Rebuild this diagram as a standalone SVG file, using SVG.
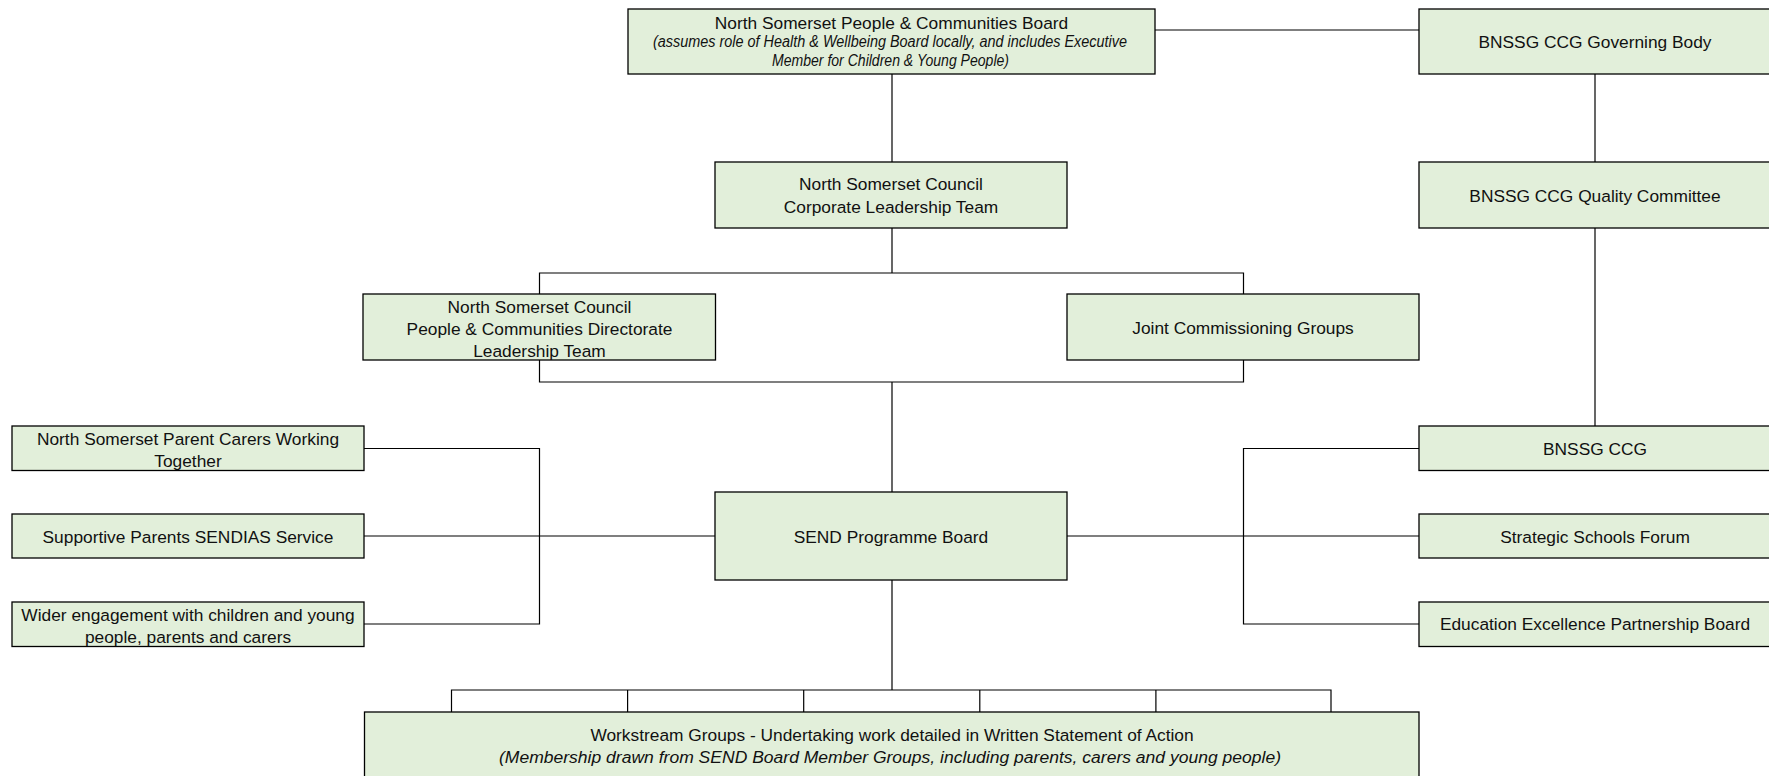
<svg xmlns="http://www.w3.org/2000/svg" width="1769" height="776" viewBox="0 0 1769 776">
<style>
.box{fill:#E2EFDA;stroke:#000;stroke-width:1.3}
.t{font-family:"Liberation Sans",Arial,sans-serif;font-size:17.33px;fill:#111;text-anchor:middle}
.i{font-style:italic}
.s{font-size:16px}
.c{fill:none;stroke:#000;stroke-width:1.2}
</style>
<rect width="1769" height="776" fill="#fff"/>
<g id="connectors">
<path class="c" d="M1155 30H1419"/>
<path class="c" d="M892 74V162"/>
<path class="c" d="M1595 74V162"/>
<path class="c" d="M1595 228V426"/>
<path class="c" d="M892 228V273"/>
<path class="c" d="M539.5 294V273H1243.5V294"/>
<path class="c" d="M539.5 360V382H1243.5V360"/>
<path class="c" d="M892 382V492"/>
<path class="c" d="M364 448.5H539.5V624H364"/>
<path class="c" d="M364 536H715"/>
<path class="c" d="M1419 448.5H1243.5V624H1419"/>
<path class="c" d="M1067 536H1419"/>
<path class="c" d="M892 580V690"/>
<path class="c" d="M451.5 712V690H1331V712M627.6 690V712M803.7 690V712M979.8 690V712M1155.9 690V712"/>
</g>
<g id="n-top">
<rect class="box" x="628" y="9" width="527" height="65"/>
<text class="t" x="891.5" y="28.5">North Somerset People &amp; Communities Board</text>
<text class="t i s" x="890" y="46.7" textLength="474" lengthAdjust="spacingAndGlyphs">(assumes role of Health &amp; Wellbeing Board locally, and includes Executive</text>
<text class="t i s" x="890.5" y="66" textLength="237" lengthAdjust="spacingAndGlyphs">Member for Children &amp; Young People)</text>
</g>
<g id="n-gov">
<rect class="box" x="1419" y="9" width="360" height="65"/>
<text class="t" x="1595" y="48">BNSSG CCG Governing Body</text>
</g>
<g id="n-quality">
<rect class="box" x="1419" y="162" width="360" height="66"/>
<text class="t" x="1595" y="202">BNSSG CCG Quality Committee</text>
</g>
<g id="n-clt">
<rect class="box" x="715" y="162" width="352" height="66"/>
<text class="t" x="891" y="189.5">North Somerset Council</text>
<text class="t" x="891" y="213">Corporate Leadership Team</text>
</g>
<g id="n-directorate">
<rect class="box" x="363" y="294" width="352.5" height="66"/>
<text class="t" x="539.5" y="313">North Somerset Council</text>
<text class="t" x="539.5" y="335">People &amp; Communities Directorate</text>
<text class="t" x="539.5" y="357">Leadership Team</text>
</g>
<g id="n-jcg">
<rect class="box" x="1067" y="294" width="352" height="66"/>
<text class="t" x="1243" y="334">Joint Commissioning Groups</text>
</g>
<g id="n-parentcarers">
<rect class="box" x="12" y="426" width="352" height="44.5"/>
<text class="t" x="188" y="445">North Somerset Parent Carers Working</text>
<text class="t" x="188" y="467">Together</text>
</g>
<g id="n-sendias">
<rect class="box" x="12" y="514" width="352" height="44"/>
<text class="t" x="188" y="542.5">Supportive Parents SENDIAS Service</text>
</g>
<g id="n-wider">
<rect class="box" x="12" y="602" width="352" height="44.5"/>
<text class="t" x="188" y="621">Wider engagement with children and young</text>
<text class="t" x="188" y="643">people, parents and carers</text>
</g>
<g id="n-send">
<rect class="box" x="715" y="492" width="352" height="88"/>
<text class="t" x="891" y="542.5">SEND Programme Board</text>
</g>
<g id="n-ccg">
<rect class="box" x="1419" y="426" width="360" height="44.5"/>
<text class="t" x="1595" y="454.5">BNSSG CCG</text>
</g>
<g id="n-ssf">
<rect class="box" x="1419" y="514" width="360" height="44"/>
<text class="t" x="1595" y="542.5">Strategic Schools Forum</text>
</g>
<g id="n-eepb">
<rect class="box" x="1419" y="602" width="360" height="44.5"/>
<text class="t" x="1595" y="630">Education Excellence Partnership Board</text>
</g>
<g id="n-workstream">
<rect class="box" x="364.5" y="712" width="1054.5" height="80"/>
<text class="t" x="892" y="741">Workstream Groups - Undertaking work detailed in Written Statement of Action</text>
<text class="t i" x="890" y="763" textLength="782" lengthAdjust="spacingAndGlyphs">(Membership drawn from SEND Board Member Groups, including parents, carers and young people)</text>
</g>
</svg>
